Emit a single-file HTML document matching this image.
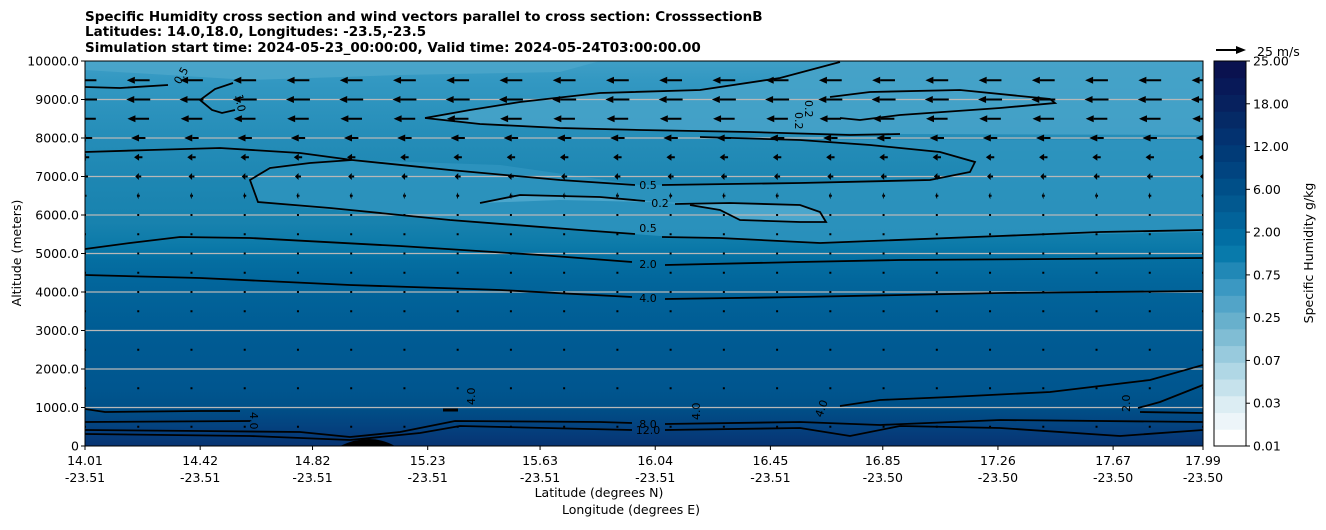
<!DOCTYPE html>
<html><head><meta charset="utf-8"><style>
body{margin:0;background:#fff;font-family:"DejaVu Sans","Liberation Sans",sans-serif;}
svg text{font-family:"DejaVu Sans","Liberation Sans",sans-serif;}
</style></head><body>
<svg id="c" width="1326" height="526" viewBox="0 0 1326 526" xmlns="http://www.w3.org/2000/svg">
<defs>
<linearGradient id="bg" x1="0" y1="0" x2="0" y2="1">
<stop offset="0" stop-color="#3f9fc6"/>
<stop offset="0.05" stop-color="#3398c2"/>
<stop offset="0.2" stop-color="#258db8"/>
<stop offset="0.3" stop-color="#1e87b3"/>
<stop offset="0.42" stop-color="#1882ae"/>
<stop offset="0.48" stop-color="#0c7aa9"/>
<stop offset="0.52" stop-color="#046ea1"/>
<stop offset="0.58" stop-color="#02659b"/>
<stop offset="0.7" stop-color="#005c94"/>
<stop offset="0.85" stop-color="#00568f"/>
<stop offset="0.9" stop-color="#005088"/>
<stop offset="0.95" stop-color="#04427f"/>
<stop offset="1" stop-color="#073372"/>
</linearGradient>
<clipPath id="pc"><rect x="85" y="61" width="1118" height="385"/></clipPath>
</defs>
<g font-size="13.5" font-weight="bold">
<text x="85" y="21">Specific Humidity cross section and wind vectors parallel to cross section: CrosssectionB</text>
<text x="85" y="36">Latitudes: 14.0,18.0, Longitudes: -23.5,-23.5</text>
<text x="85" y="52">Simulation start time: 2024-05-23_00:00:00, Valid time: 2024-05-24T03:00:00.00</text>
</g>
<g clip-path="url(#pc)">
<rect x="85" y="61" width="1118" height="385" fill="url(#bg)"/>
<path fill="#4ca6cb" opacity="0.8" d="M85,61 L600,61 L560,72 L400,75 L250,80 L85,70 Z"/>
<path fill="#48a3c9" opacity="0.85" d="M425,118 L520,102 L600,93 L700,90 L780,78 L840,62 L1203,61 L1203,135 L900,134 L750,132 L560,128 L480,124 Z"/>
<path fill="#2f95bf" opacity="0.8" d="M352,160 L500,165 L640,185 L800,183 L930,180 L970,172 L975,162 L940,152 L870,145 L800,140 L1203,140 L1203,232 L1000,236 L820,243 L660,236 L450,220 L300,207 L258,202 L250,180 L270,166 Z"/>
<path fill="#54abcf" opacity="0.8" d="M480,203 L520,195 L600,197 L690,205 L720,210 L740,220 L800,222 L826,222 L820,212 L800,205 L730,203 L690,203 L560,200 Z"/>
<path fill="#000" d="M340,446 Q370,432 395,446 Z"/>
<g id="grid"></g>
<g fill="none" stroke="#000" stroke-width="1.8">
<path d="M85,87 L120,88 L168,85"/>
<path d="M233,83 L215,89 L200,100 L212,110 L222,113 L235,110"/>
<path d="M425,118 L470,110 L520,102 L600,93 L700,90 L780,78 L840,62"/>
<path d="M425,118 L480,124 L560,128 L640,130 L750,132 L850,135 L900,134"/>
<path d="M830,97 L870,92 L960,90 L1050,99 L1055,103 L1000,108 L900,115 L860,120 L840,118"/>
<path d="M85,152 L150,150 L220,148 L300,153 L352,160 L310,163 L270,168 L250,180 L258,202 L330,208 L450,220 L580,230 L635,234"/>
<path d="M662,237 L720,238 L820,243 L1000,236 L1100,232 L1203,230"/>
<path d="M352,160 L450,170 L560,180 L635,185"/>
<path d="M662,185 L800,183 L930,180 L970,172 L975,162 L940,152 L870,145 L800,140 L700,137"/>
<path d="M480,203 L520,195 L600,197 L645,201"/>
<path d="M675,204 L730,203 L800,205 L820,212 L826,222 L800,222 L740,220 L720,210 L690,205"/>
<path d="M85,249 L130,243 L180,237 L250,238 L400,246 L540,255 L632,262"/>
<path d="M665,265 L800,262 L900,260 L1203,258"/>
<path d="M85,275 L200,278 L350,285 L500,290 L632,297"/>
<path d="M665,299 L800,297 L1000,293 L1203,291"/>
<path d="M85,409 L105,412 L200,411 L240,411"/>
<path d="M85,422 L250,421"/>
<path d="M85,430 L200,431 L300,432 L350,437 L400,432 L455,421 L600,422 L632,423"/>
<path d="M85,434 L250,436 L350,440 L420,433 L460,426 L632,430"/>
<path d="M665,424 L800,422 L880,425 L1000,420 L1203,422"/>
<path d="M665,430 L800,428 L850,436 L900,426 L1000,428 L1120,436 L1203,430"/>
<path d="M840,406 L880,400 L950,397 L1050,392 L1150,380 L1203,365"/>
<path d="M1138,408 L1160,402 L1203,385"/>
<path d="M1140,412 L1203,413"/>
<path d="M443,410 L458,410" stroke-width="3"/>
</g>
<g font-size="11" fill="#000">
<text x="648" y="189" text-anchor="middle">0.5</text>
<text x="660" y="207" text-anchor="middle">0.2</text>
<text x="648" y="232" text-anchor="middle">0.5</text>
<text x="648" y="268" text-anchor="middle">2.0</text>
<text x="648" y="302" text-anchor="middle">4.0</text>
<text x="648" y="428" text-anchor="middle">8.0</text>
<text x="648" y="434" text-anchor="middle">12.0</text>
<text x="180" y="85" transform="rotate(-60 180 85)">0.5</text>
<text x="235" y="95" transform="rotate(80 235 95)">1.0</text>
<text x="250" y="412" transform="rotate(90 250 412)">4.0</text>
<text x="475" y="405" transform="rotate(-90 475 405)">4.0</text>
<text x="700" y="420" transform="rotate(-90 700 420)">4.0</text>
<text x="822" y="418" transform="rotate(-70 822 418)">4.0</text>
<text x="1130" y="412" transform="rotate(-90 1130 412)">2.0</text>
<text x="805" y="100" transform="rotate(90 805 100)">0.2</text>
<text x="795" y="112" transform="rotate(90 795 112)">0.2</text>
</g>
<g id="arrows"></g>
</g>
<rect x="85" y="61" width="1118" height="385" fill="none" stroke="#000" stroke-width="1"/>
<g id="axes" font-size="12.5"></g>
<text x="21" y="253" font-size="12.5" text-anchor="middle" transform="rotate(-90 21 253)">Altitude (meters)</text>
<text x="599" y="497" font-size="12.5" text-anchor="middle">Latitude (degrees N)</text>
<text x="631" y="514" font-size="12.5" text-anchor="middle">Longitude (degrees E)</text>
<g>
<line x1="1216" y1="50" x2="1238" y2="50" stroke="#000" stroke-width="2"/>
<polygon points="1246,50 1236,46 1236,54" fill="#000"/>
<text x="1257" y="56" font-size="12.5">25 m/s</text>
</g>
<g id="cbar"></g>
<text x="1313" y="253" font-size="12.5" text-anchor="middle" transform="rotate(-90 1313 253)">Specific Humidity g/kg</text>
</svg>
<script>
const altTicks=[0,1000,2000,3000,4000,5000,6000,7000,8000,9000,10000];
const latLabels=["14.01","14.42","14.82","15.23","15.63","16.04","16.45","16.85","17.26","17.67","17.99"];
const lonLabels=["-23.51","-23.51","-23.51","-23.51","-23.51","-23.51","-23.51","-23.50","-23.50","-23.50","-23.50"];
const latValues=[14.01,14.42,14.82,15.23,15.63,16.04,16.45,16.85,17.26,17.67,17.99];
const windAlts=[9500,9000,8500,8000,7500,7000,6500,6000,5500,5000,4500,4000,3500,2500,1500,500];
const windSpeed=[19,20,18,12,7,5,2.5,1.5,1.2,1.2,1.5,1.2,0.8,0.8,0.8,0.8];
const cbarLabels=["0.01","0.03","0.07","0.25","0.75","2.00","6.00","12.00","18.00","25.00"];
const cbarColors=["#ffffff","#edf5f9","#dcedf3","#c6e2ec","#b0d7e5","#98cadd","#80bdd4","#68b0cc","#52a4c8","#3b98c2","#2188b6","#087aab","#026ea3","#02639a","#025990","#004f88","#014480","#013b77","#033270","#052a66","#07215e","#081958","#0a124f"];
const NS="http://www.w3.org/2000/svg";
const X0=85,X1=1203,Y0=446,Y1=61;
function yA(a){return Y0-(a/10000)*(Y0-Y1);}
function xL(l){return X0+(l-14.01)/(17.99-14.01)*(X1-X0);}
function mk(t,attrs,parent){const e=document.createElementNS(NS,t);for(const k in attrs)e.setAttribute(k,attrs[k]);parent.appendChild(e);return e;}
const grid=document.getElementById('grid');
altTicks.slice(1,-1).forEach(a=>{
 const l=mk('line',{x1:X0,x2:X1,y1:yA(a),y2:yA(a),stroke:'#b8b8b8','stroke-width':1.2},grid);
 
 
});
const axes=document.getElementById('axes');
altTicks.forEach(a=>{
 const y=yA(a);
 mk('line',{x1:X0-4,x2:X0,y1:y,y2:y,stroke:'#000'},axes);
 const t=mk('text',{x:X0-6,y:y+4.5,'text-anchor':'end'},axes);t.textContent=a===0?'0':a.toFixed(1);
 
 
});
latValues.forEach((v,i)=>{
 const x=xL(v);
 mk('line',{x1:x,x2:x,y1:Y0,y2:Y0+4,stroke:'#000'},axes);
 const t=mk('text',{x:x,y:465,'text-anchor':'middle'},axes);t.textContent=latLabels[i];
 
 
 const t2=mk('text',{x:x,y:482,'text-anchor':'middle'},axes);t2.textContent=lonLabels[i];
 
 
});
const arr=document.getElementById('arrows');
const pxPerMS=30/25;
for(let i=0;i<=21;i++){
 const x=X0+i*(X1-X0)/21;
 windAlts.forEach((a,j)=>{
  const y=yA(a);const L=windSpeed[j]*pxPerMS;
  const g=mk('g',{},arr);
  
  
  if(L<3){mk('rect',{x:x-1,y:y-1,width:2,height:2,fill:'#000'},g);return;}
  const head=Math.min(8,L*0.6);
  mk('line',{x1:x+L/2,x2:x-L/2+head,y1:y,y2:y,stroke:'#000','stroke-width':2},g);
  mk('polygon',{points:`${x-L/2},${y} ${x-L/2+head},${y-3.5} ${x-L/2+head},${y+3.5}`,fill:'#000'},g);
 });
}
const cb=document.getElementById('cbar');
const CX=1214,CW=32,n=cbarColors.length;
const bh=(Y0-Y1)/n;
cbarColors.forEach((c,i)=>{
 const r=mk('rect',{x:CX,y:Y0-(i+1)*bh,width:CW,height:bh+0.5,fill:c},cb);
 
 
});
mk('rect',{x:CX,y:Y1,width:CW,height:Y0-Y1,fill:'none',stroke:'#000'},cb);
cbarLabels.forEach((s,i)=>{
 const y=Y0-i*(Y0-Y1)/(cbarLabels.length-1);
 mk('line',{x1:CX+CW,x2:CX+CW+4,y1:y,y2:y,stroke:'#000'},cb);
 const t=mk('text',{x:CX+CW+7,y:y+4.5,'font-size':12.5},cb);t.textContent=s;
 
 
});
</script>
</body></html>
